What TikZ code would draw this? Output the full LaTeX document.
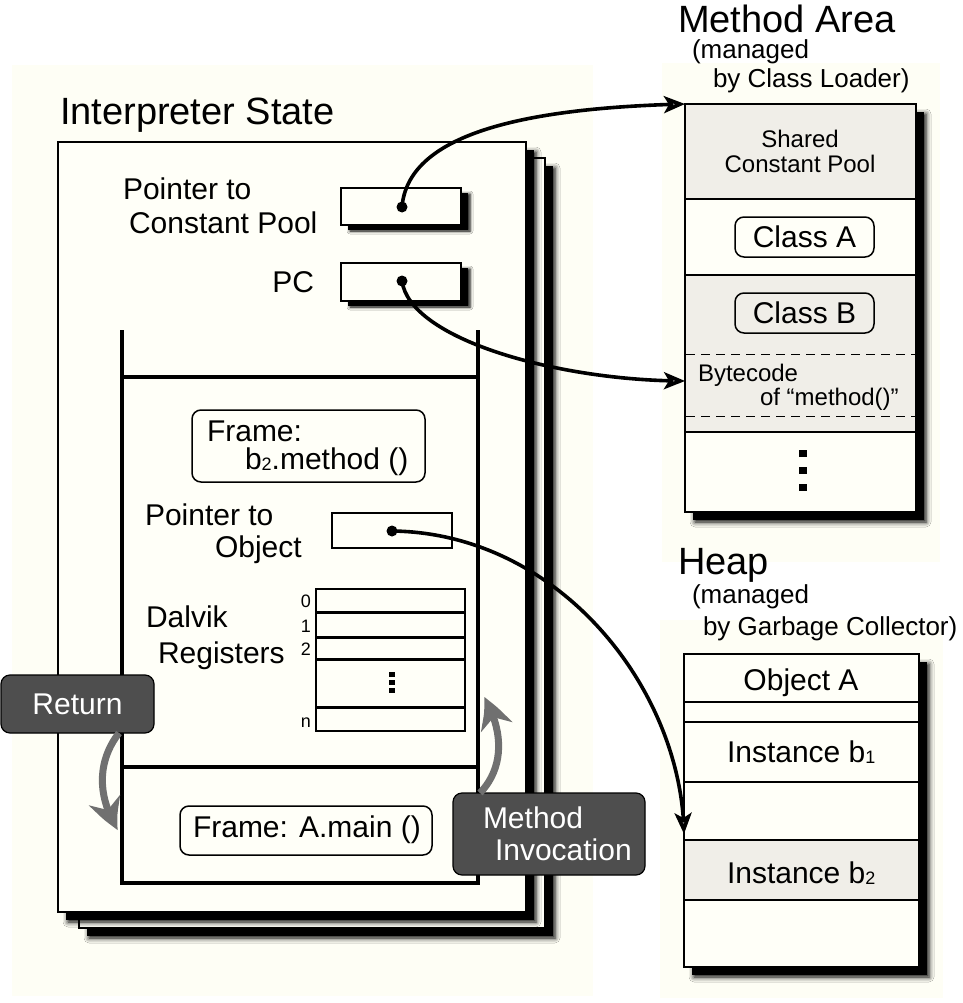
\documentclass[tikz,border=0pt]{standalone}
\usepackage{fontspec}
\setmainfont{Liberation Sans}
\usetikzlibrary{arrows.meta,bending,shadows.blur}
\definecolor{paper}{RGB}{254,254,245}
\definecolor{boxfill}{RGB}{255,255,248}
\definecolor{secgray}{RGB}{240,238,232}
\definecolor{tabdark}{RGB}{78,78,78}
\definecolor{flowgray}{RGB}{112,112,112}
\newcommand\szTitle{\fontsize{38pt}{44pt}\selectfont}
\newcommand\szMain{\fontsize{30pt}{36pt}\selectfont}
\newcommand\szNote{\fontsize{26pt}{31pt}\selectfont}
\newcommand\szMid{\fontsize{24pt}{29pt}\selectfont}
\newcommand\szIdx{\fontsize{18pt}{22pt}\selectfont}
\newcommand\subdigit[1]{\raisebox{-1pt}{\szIdx #1}}
\begin{document}
\begin{tikzpicture}[x=1pt,y=-1pt,
  txt/.style={inner sep=0pt,outer sep=0pt,font=\szMain},
  panel/.style={draw=black,line width=1.6pt,fill=boxfill},
  heavyshadow/.style={
    blur shadow={shadow xshift=10pt,shadow yshift=-10pt,shadow blur radius=5pt,shadow opacity=100},
    preaction={fill=black,transform canvas={xshift=8pt,yshift=-8pt}}},
  slotshadow/.style={
    blur shadow={shadow xshift=9pt,shadow yshift=-6pt,shadow blur radius=3pt,shadow opacity=100},
    preaction={fill=black,transform canvas={xshift=7pt,yshift=-5pt}}},
  slot/.style={draw=black,line width=2.4pt,fill=boxfill,inner sep=0pt,outer sep=0pt,anchor=north west},
  labelbox/.style={draw=black,line width=1.5pt,rounded corners=9pt,fill=boxfill,inner sep=0pt,outer sep=0pt,anchor=north west,font=\szMain},
  tab/.style={draw=black,line width=1.2pt,fill=tabdark,rounded corners=9pt,text=white,inner sep=0pt,outer sep=0pt,anchor=north west,font=\szMain},
  store/.style={draw=black,line width=2pt,fill=boxfill,inner sep=0pt,outer sep=0pt,anchor=north west},
  link/.style={line width=3.6pt,-{Stealth[length=21pt,width=17pt,inset=5pt]}},
  flow/.style={line width=7pt,draw=flowgray,-{Stealth[length=34pt,width=32pt,inset=11pt,bend]}},
  divider/.style={line width=2.2pt},
  stackline/.style={line width=4pt},
]
\useasboundingbox (0,0) rectangle (962,1003);
\fill[white] (0,0) rectangle (962,1003);
% soft paper areas behind the three parts
\fill[paper] (12,65) rectangle (593,996);
\fill[paper] (662,63) rectangle (940,562);
\fill[paper] (660,620) rectangle (943,998);

% ---------------- interpreter state ----------------
\node[txt,font=\szTitle,anchor=base west] (istitle) at (60,125) {Interpreter State};
\draw[panel,heavyshadow] (79,158) rectangle (545,928);
\draw[panel,heavyshadow] (58,142) rectangle (526,912);

\node[txt,anchor=base west] (ptc1) at (123,200) {Pointer to};
\node[txt,anchor=base west] (ptc2) at (129,233) {Constant Pool};
\node[slot,slotshadow,minimum width=120pt,minimum height=37pt] (cpslot) at (341,188) {};
\node[txt,anchor=base east] (pclabel) at (314,292) {PC};
\node[slot,slotshadow,minimum width=120pt,minimum height=38pt] (pcslot) at (341,263) {};
\coordinate (cpdot) at (402,207);
\coordinate (pcdot) at (402,281);

% call stack
\draw[stackline] (122,330) -- (122,883) -- (478,883) -- (478,330);
\draw[stackline] (122,377) -- (478,377);
\draw[stackline] (122,767) -- (478,767);

% current frame
\node[labelbox,minimum width=233pt,minimum height=72pt] (fb) at (192,410) {};
\node[txt,anchor=base west] (fb1) at (207,441) {Frame:};
\node[txt,anchor=base west] (fb2) at (245,469) {b\subdigit{2}.method ()};

\node[txt,anchor=base west] (po1) at (145,525) {Pointer to};
\node[txt,anchor=base west] (po2) at (215,557) {Object};
\node[slot,line width=2pt,minimum width=120pt,minimum height=35pt] (objslot) at (332,513) {};
\coordinate (objdot) at (392,531);

\node[txt,anchor=base west] (dv1) at (146,627) {Dalvik};
\node[txt,anchor=base west] (dv2) at (158,663) {Registers};
\node[store,line width=2.4pt,minimum width=149pt,minimum height=142pt] (regs) at (316,589) {};
\foreach \yy in {612,637,659,707} \draw[line width=3pt] (316,\yy) -- (465,\yy);
\node[txt,font=\szIdx,anchor=base east] (r0) at (311,607) {0};
\node[txt,font=\szIdx,anchor=base east] (r1) at (311,632) {1};
\node[txt,font=\szIdx,anchor=base east] (r2) at (311,655) {2};
\node[txt,font=\szIdx,anchor=base east] (rn) at (311,727) {n};
\fill (389,672) rectangle (395,677);
\fill (389,680) rectangle (395,685);
\fill (389,688) rectangle (395,693);

% calling frame
\node[labelbox,minimum width=252pt,minimum height=49pt] (fa) at (180,806) {};
\node[txt,anchor=base west] (fat) at (193,837) {Frame: A.main ()};

% control transfer tabs
\node[tab,minimum width=153pt,minimum height=58pt] (ret) at (1,675) {Return};
\node[tab,minimum width=192pt,minimum height=82pt] (mi) at (453,793) {};
\node[txt,text=white,anchor=base west] (mi1) at (483,828) {Method};
\node[txt,text=white,anchor=base west] (mi2) at (495,860) {Invocation};
\coordinate (retend) at (118,830);
\coordinate (mitip) at (484,697);
\draw[flow] ([xshift=-35pt]ret.south east) .. controls (98,760) and (96,795) .. (retend);
\draw[flow] ([xshift=27pt]mi.north west) .. controls (502,770) and (506,735) .. (mitip);

% ---------------- method area ----------------
\node[txt,font=\szTitle,anchor=base west] (matitle) at (678,33) {Method Area};
\node[txt,font=\szNote,anchor=base west] (mam1) at (692,59) {(managed};
\node[txt,font=\szNote,anchor=base west] (mam2) at (713,88) {by Class Loader)};
\node[store,heavyshadow,minimum width=231pt,minimum height=408pt] (ma) at (685,104) {};
\fill[secgray] (686,105) rectangle (915,199);
\fill[secgray] (686,275) rectangle (915,431);
\draw[divider] (685,199) -- (916,199);
\draw[divider] (685,275) -- (916,275);
\draw[divider] (685,432) -- (916,432);
\draw[line width=1pt,dash pattern=on 9pt off 6pt] (686,354) -- (915,354);
\draw[line width=1pt,dash pattern=on 9pt off 6pt] (686,416) -- (915,416);
\draw[line width=2pt] (ma.north west) rectangle (ma.south east);
\node[txt,font=\szMid,anchor=base] (sh1) at (800,148) {Shared};
\node[txt,font=\szMid,anchor=base] (sh2) at (800,173) {Constant Pool};
\node[labelbox,minimum width=139pt,minimum height=40pt] (clA) at (735,217) {Class A};
\node[labelbox,minimum width=139pt,minimum height=40pt,fill=secgray] (clB) at (735,293) {Class B};
\node[txt,font=\szMid,anchor=base west] (bc1) at (698,381) {Bytecode};
\node[txt,font=\szMid,anchor=base west] (bc2) at (760,405) {of “method()”};
\coordinate (mabyte) at (685,381);
\fill (799,450) rectangle (807,457);
\fill (799,467) rectangle (807,474);
\fill (799,484) rectangle (807,491);

% ---------------- heap ----------------
\node[txt,font=\szTitle,anchor=base west] (hptitle) at (678,574) {Heap};
\node[txt,font=\szNote,anchor=base west] (hpm1) at (692,603) {(managed};
\node[txt,font=\szNote,anchor=base west] (hpm2) at (703,635) {by Garbage Collector)};
\node[store,heavyshadow,minimum width=235pt,minimum height=313pt] (hp) at (684,654) {};
\fill[secgray] (685,840) rectangle (918,900);
\foreach \yy in {702,722,782,840,900} \draw[divider] (684,\yy) -- (919,\yy);
\draw[line width=2pt] (hp.north west) rectangle (hp.south east);
\node[txt,anchor=base] (objA) at (801,690) {Object A};
\node[txt,anchor=base west] (insb1) at (727,762) {Instance b\subdigit{1}};
\node[txt,anchor=base west] (insb2) at (727,883) {Instance b\subdigit{2}};
\coordinate (hpin) at (684,834);

% ---------------- references ----------------
\draw[link] (cpdot) .. controls (408,135) and (520,108) .. (ma.north west);
\draw[link] (pcdot) .. controls (410,340) and (560,381) .. (mabyte);
\draw[link] (objdot) .. controls (560,533) and (682,690) .. (hpin);
\fill (cpdot) circle (5.5pt);
\fill (pcdot) circle (5.5pt);
\fill (objdot) circle (5.5pt);
\end{tikzpicture}
\end{document}
